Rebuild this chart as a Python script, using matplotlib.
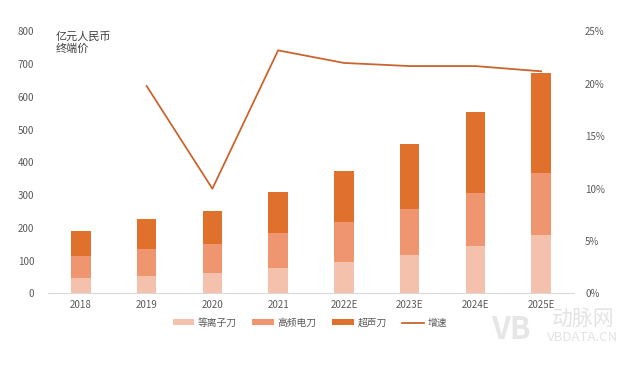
import matplotlib
matplotlib.use("Agg")
import matplotlib.pyplot as plt
from matplotlib.ticker import FuncFormatter

plt.rcParams["font.family"] = ["Noto Sans CJK SC", "DejaVu Sans"]

# Data
years = ["2018", "2019", "2020", "2021", "2022E", "2023E", "2024E", "2025E"]
plasma = [46, 53, 62, 77, 96, 117, 144, 179]
hf_total = [114, 137, 151, 184, 218, 259, 308, 368]
total = [191, 227, 251, 310, 375, 457, 555, 674]
growth_years = years[1:]
growth = [19.8, 10.0, 23.2, 22.0, 21.7, 21.7, 21.2]

high_freq = [h - p for h, p in zip(hf_total, plasma)]
ultrasonic = [t - h for t, h in zip(total, hf_total)]

c_plasma = "#F4C1AC"
c_hf = "#EF9670"
c_us = "#DF712C"
c_line = "#C9652E"
tick_color = "#595959"


def main():
    fig = plt.figure(figsize=(6.39, 3.84), dpi=100)
    ax = fig.add_axes([0.0751, 0.2357, 0.8232, 0.6823])
    x = list(range(len(years)))
    w = 0.3
    ax.bar(x, plasma, w, color=c_plasma, label="等离子刀")
    ax.bar(x, high_freq, w, bottom=plasma, color=c_hf, label="高频电刀")
    ax.bar(x, ultrasonic, w, bottom=hf_total, color=c_us, label="超声刀")
    ax.set_xlim(-0.5, len(years) - 0.5)
    ax.set_ylim(0, 800)
    ax.set_yticks(range(0, 801, 100))
    ax.set_xticks(x)
    ax.set_xticklabels(years)

    ax2 = ax.twinx()
    gx = [years.index(y) for y in growth_years]
    ax2.plot(gx, growth, color=c_line, lw=1.3, label="增速")
    ax2.set_ylim(0, 25)
    ax2.set_yticks(range(0, 26, 5))
    ax2.yaxis.set_major_formatter(FuncFormatter(lambda v, p: f"{int(v)}%"))

    for a in (ax, ax2):
        for s in a.spines.values():
            s.set_visible(False)
        a.tick_params(length=0, labelsize=7, colors=tick_color)
    ax.spines["bottom"].set_visible(True)
    ax.spines["bottom"].set_color("#D9D9D9")
    ax.tick_params(axis="y", pad=10)
    ax2.tick_params(axis="y", pad=8)
    ax.tick_params(axis="x", pad=5)

    ax.text(0.015, 1.0, "亿元人民币\n终端价", transform=ax.transAxes,
            fontsize=8, color="#404040", va="top", ha="left", linespacing=1.2)

    h1, l1 = ax.get_legend_handles_labels()
    h2, l2 = ax2.get_legend_handles_labels()
    fig.legend(h1 + h2, l1 + l2, loc="center", bbox_to_anchor=(0.485, 0.16),
               ncol=4, frameon=False, fontsize=7, handlelength=2.2,
               handleheight=0.45, columnspacing=1.6, handletextpad=0.4,
               labelcolor=tick_color)

    # watermark
    fig.text(0.80, 0.14, "VB", fontsize=22, color="#E6E6E6", weight="bold",
             ha="center", va="center")
    fig.text(0.912, 0.17, "动脉网", fontsize=15, color="#E3E3E3",
             ha="center", va="center")
    fig.text(0.912, 0.12, "VBDATA.CN", fontsize=9.5, color="#E3E3E3",
             ha="center", va="center")

    fig.savefig("out.png", dpi=100)


if __name__ == "__main__":
    main()
